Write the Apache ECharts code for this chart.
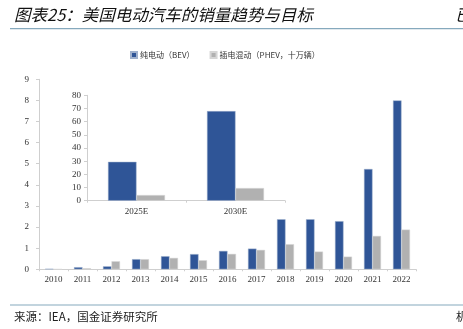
<!DOCTYPE html>
<html>
<head>
<meta charset="utf-8">
<script src="https://cdn.jsdelivr.net/npm/echarts@6/dist/echarts.min.js"></script>
<style>
html,body{margin:0;padding:0;background:#fff;}
#c{width:463px;height:329px;}
</style>
</head>
<body>
<div id="c"></div>
<script>
const years = ['2010','2011','2012','2013','2014','2015','2016','2017','2018','2019','2020','2021','2022'];
const bev = [0.02,0.1,0.14,0.48,0.62,0.72,0.87,0.98,2.37,2.37,2.28,4.75,8.0];
const phev = [0,0.05,0.38,0.48,0.54,0.43,0.73,0.92,1.19,0.84,0.6,1.58,1.88];
const targetCats = ['2025E','2030E'];
const targetBev = [29.5,68];
const targetPhev = [4.3,9.6];
const nameBev = '纯电动（BEV）';
const namePhev = '插电混动（PHEV，十万辆）';

const BLUE = '#2f5597';
const GRAY = '#b1b1b1';
const serif = '"Liberation Serif","DejaVu Serif",serif';
const cjk = '"Noto Sans CJK SC","Liberation Serif",sans-serif';
const axisLineStyle = {color:'#cfcfcf', width:1};

const chart = echarts.init(document.getElementById('c'), null, {renderer:'canvas'});
chart.setOption({
  animation:false,
  backgroundColor:'#fff',
  legend:{
    left:125, top:46, itemWidth:6, itemHeight:6, itemGap:15,
    icon:'rect',
    textStyle:{fontSize:8, color:'#333', fontFamily:cjk, padding:[0,0,0,-2]},
    data:[nameBev, namePhev]
  },
  grid:[
    {left:39, right:47, top:79.3, bottom:59.7},
    {left:87, width:198, top:95.3, height:105.4}
  ],
  xAxis:[
    {type:'category', gridIndex:0, data:years,
     axisLine:{lineStyle:axisLineStyle}, axisTick:{show:true, length:2, lineStyle:axisLineStyle},
     axisLabel:{fontSize:9, color:'#333', fontFamily:serif, margin:6}},
    {type:'category', gridIndex:1, data:targetCats,
     axisLine:{lineStyle:axisLineStyle}, axisTick:{show:true, length:2, lineStyle:axisLineStyle},
     axisLabel:{fontSize:9, color:'#333', fontFamily:serif, margin:6}}
  ],
  yAxis:[
    {type:'value', gridIndex:0, min:0, max:9, interval:1,
     axisLine:{show:true, lineStyle:axisLineStyle}, axisTick:{show:true, length:3, lineStyle:axisLineStyle},
     splitLine:{show:false},
     axisLabel:{fontSize:9, color:'#333', fontFamily:serif, margin:10}},
    {type:'value', gridIndex:1, min:0, max:80, interval:10,
     axisLine:{show:true, lineStyle:axisLineStyle}, axisTick:{show:true, length:3, lineStyle:axisLineStyle},
     splitLine:{show:false},
     axisLabel:{fontSize:9, color:'#333', fontFamily:serif, margin:6}}
  ],
  series:[
    {name:nameBev, type:'bar', xAxisIndex:0, yAxisIndex:0, data:bev, barWidth:8.5, barGap:'0%',
     itemStyle:{color:BLUE, borderColor:'#9fb0cc', borderWidth:0.5}},
    {name:namePhev, type:'bar', xAxisIndex:0, yAxisIndex:0, data:phev, barWidth:8.5, barGap:'0%',
     itemStyle:{color:GRAY, borderColor:'#d6d6d6', borderWidth:0.5}},
    {name:nameBev, type:'bar', xAxisIndex:1, yAxisIndex:1, data:targetBev, barWidth:28.5, barGap:'0%',
     itemStyle:{color:BLUE, borderColor:'#9fb0cc', borderWidth:0.5}},
    {name:namePhev, type:'bar', xAxisIndex:1, yAxisIndex:1, data:targetPhev, barWidth:28.5, barGap:'0%',
     itemStyle:{color:GRAY, borderColor:'#d6d6d6', borderWidth:0.5}}
  ],
  graphic:[
    {type:'text', left:14, top:6, style:{text:'图表25：美国电动汽车的销量趋势与目标', fontSize:16.5, fontStyle:'italic', fontFamily:cjk, fill:'#111'}},
    {type:'text', left:455, top:6, style:{text:'已', fontSize:16.5, fontStyle:'italic', fontFamily:cjk, fill:'#111'}},
    {type:'line', shape:{x1:10, y1:28.7, x2:463, y2:28.7}, style:{stroke:'#86a9bd', lineWidth:1.2}},
    {type:'line', shape:{x1:10, y1:305, x2:463, y2:305}, style:{stroke:'#86a9bd', lineWidth:1.2}},
    {type:'text', left:14, top:311, style:{text:'来源：IEA，国金证券研究所', fontSize:11.5, fontFamily:cjk, fill:'#222'}},
    {type:'text', left:456, top:311, style:{text:'机', fontSize:11.5, fontFamily:cjk, fill:'#222'}}
  ]
});
</script>
</body>
</html>
